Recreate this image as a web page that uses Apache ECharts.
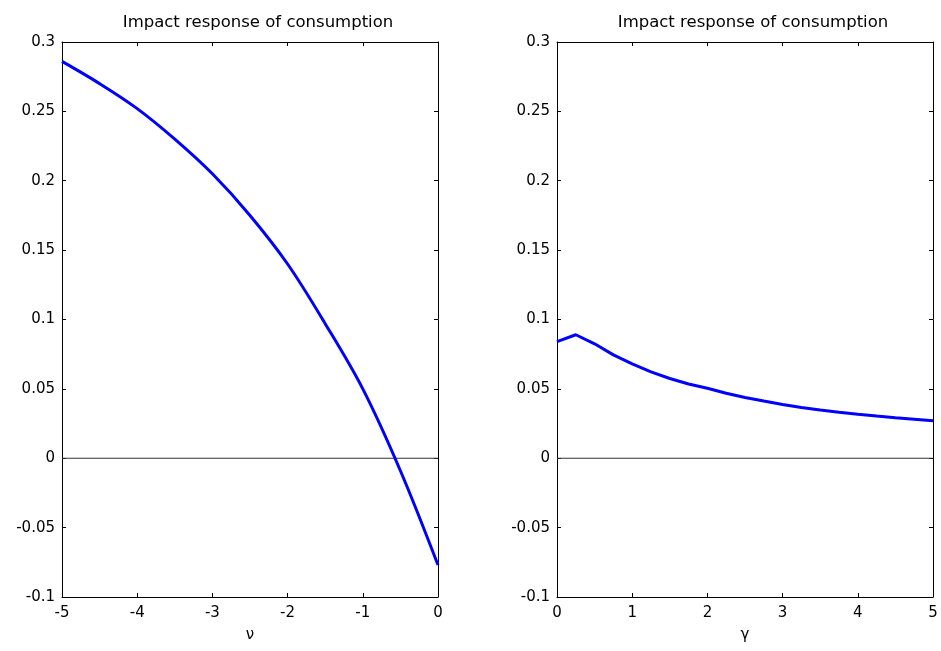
<!DOCTYPE html>
<html>
<head>
<meta charset="utf-8">
<script src="https://cdn.jsdelivr.net/npm/echarts@6/dist/echarts.min.js"></script>
<style>
  html, body { margin: 0; padding: 0; background: #fff; }
  #chart { width: 941px; height: 651px; }
</style>
</head>
<body>
<div id="chart"></div>
<script>
// Impact response of consumption as a function of nu (left) and gamma (right)
const titleText = 'Impact response of consumption';

const nuValues = [-5, -4.5, -4, -3.5, -3, -2.5, -2, -1.5, -1, -0.5, 0];
const nuResponse = [0.286, 0.270, 0.252, 0.230, 0.205, 0.175, 0.140, 0.097, 0.050, -0.009, -0.077];

const gammaValues = [0, 0.25, 0.5, 0.75, 1, 1.25, 1.5, 1.75, 2, 2.25, 2.5, 2.75, 3, 3.25, 3.5, 3.75, 4, 4.25, 4.5, 4.75, 5];
const gammaResponse = [0.084, 0.089, 0.0825, 0.0745, 0.068, 0.0622, 0.0575, 0.0535, 0.0505, 0.0469, 0.0438, 0.0412, 0.0388, 0.0366, 0.0348, 0.0332, 0.0317, 0.0304, 0.0292, 0.0281, 0.0270];

const yTicks = { min: -0.1, max: 0.3, interval: 0.05 };
const nuRange = { min: -5, max: 0, interval: 1 };
const gammaRange = { min: 0, max: 5, interval: 1 };

const font = 'DejaVu Sans, Liberation Sans, Arial, sans-serif';
const axisColor = '#000';

function pairs(xs, ys) { return xs.map((x, i) => [x, ys[i]]); }

function yLabel(v) {
  const r = Math.round(v * 100) / 100;
  return String(r);
}

function xAxesFor(gridIndex, range, name) {
  return [
    {
      type: 'value', gridIndex, position: 'bottom',
      min: range.min, max: range.max, interval: range.interval,
      name, nameLocation: 'middle', nameGap: 31,
      nameTextStyle: { fontFamily: font, fontSize: 15, color: '#000' },
      axisLine: { show: true, onZero: false, lineStyle: { color: axisColor, width: 1 } },
      axisTick: { show: true, inside: true, length: 4, lineStyle: { color: axisColor } },
      axisLabel: { fontFamily: font, fontSize: 15, color: '#000', margin: 9 },
      splitLine: { show: false }
    },
    {
      type: 'value', gridIndex, position: 'top',
      min: range.min, max: range.max, interval: range.interval,
      axisLine: { show: true, onZero: false, lineStyle: { color: axisColor, width: 1 } },
      axisTick: { show: true, inside: true, length: 4, lineStyle: { color: axisColor } },
      axisLabel: { show: false },
      splitLine: { show: false }
    }
  ];
}

function yAxesFor(gridIndex) {
  return [
    {
      type: 'value', gridIndex, position: 'left',
      min: yTicks.min, max: yTicks.max, interval: yTicks.interval,
      axisLine: { show: true, onZero: false, lineStyle: { color: axisColor, width: 1 } },
      axisTick: { show: true, inside: true, length: 4, lineStyle: { color: axisColor } },
      axisLabel: { fontFamily: font, fontSize: 15, color: '#000', margin: 7, formatter: yLabel },
      splitLine: { show: false }
    },
    {
      type: 'value', gridIndex, position: 'right',
      min: yTicks.min, max: yTicks.max, interval: yTicks.interval,
      axisLine: { show: true, onZero: false, lineStyle: { color: axisColor, width: 1 } },
      axisTick: { show: true, inside: true, length: 4, lineStyle: { color: axisColor } },
      axisLabel: { show: false },
      splitLine: { show: false }
    }
  ];
}

const chart = echarts.init(document.getElementById('chart'), null, { renderer: 'canvas' });

const titleStyle = { fontFamily: font, fontSize: 16.5, fontWeight: 'normal', color: '#000' };

const option = {
  backgroundColor: '#fff',
  animation: false,
  title: [
    { text: titleText, left: 253, top: 9, textAlign: 'center', textStyle: titleStyle },
    { text: titleText, left: 748, top: 9, textAlign: 'center', textStyle: titleStyle }
  ],
  grid: [
    { left: 62, top: 42, width: 376, height: 555 },
    { left: 557, top: 42, width: 376, height: 555 }
  ],
  xAxis: [
    ...xAxesFor(0, nuRange, 'ν'),
    ...xAxesFor(1, gammaRange, 'γ')
  ],
  yAxis: [
    ...yAxesFor(0),
    ...yAxesFor(1)
  ],
  series: [
    {
      type: 'line', xAxisIndex: 0, yAxisIndex: 0,
      data: [[nuRange.min, 0], [nuRange.max, 0]],
      symbol: 'none', lineStyle: { color: '#333', width: 1 }, z: 1
    },
    {
      type: 'line', xAxisIndex: 0, yAxisIndex: 0,
      data: pairs(nuValues, nuResponse),
      symbol: 'none', smooth: 0.35,
      lineStyle: { color: '#0000ff', width: 3 }, z: 3
    },
    {
      type: 'line', xAxisIndex: 2, yAxisIndex: 2,
      data: [[gammaRange.min, 0], [gammaRange.max, 0]],
      symbol: 'none', lineStyle: { color: '#333', width: 1 }, z: 1
    },
    {
      type: 'line', xAxisIndex: 2, yAxisIndex: 2,
      data: pairs(gammaValues, gammaResponse),
      symbol: 'none',
      lineStyle: { color: '#0000ff', width: 3 }, z: 3
    }
  ]
};

chart.setOption(option);
</script>
</body>
</html>
